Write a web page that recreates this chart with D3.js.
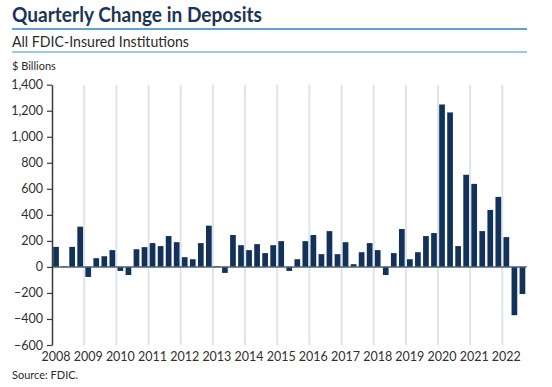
<!DOCTYPE html>
<html>
<head>
<meta charset="utf-8">
<script src="https://cdn.jsdelivr.net/npm/d3@7"></script>
<style>
  body { margin: 0; background: #fff; }
  text { font-family: "Source Sans Pro", Lato, "Open Sans", sans-serif; }
</style>
</head>
<body>
<script>
// Chart data
var years = [2008, 2009, 2010, 2011, 2012, 2013, 2014, 2015, 2016, 2017, 2018, 2019, 2020, 2021, 2022];
var quarterNames = ["Q1", "Q2", "Q3", "Q4"];
// quarterly change in deposits, $ billions, 2008Q1 .. 2022Q3
var depositChange = [
    154, 5, 154, 309,        // 2008
    -77, 67, 82, 129,        // 2009
    -31, -62, 136, 152,      // 2010
    183, 160, 237, 190,      // 2011
    75, 59, 183, 317,        // 2012
    5, -46, 245, 167,        // 2013
    129, 175, 106, 167,      // 2014
    198, -31, 59, 198,       // 2015
    245, 98, 275, 98,        // 2016
    190, 21, 113, 183,       // 2017
    129, -62, 106, 291,      // 2018
    59, 113, 237, 260,       // 2019
    1248, 1187, 160, 708,    // 2020
    638, 275, 438, 538,      // 2021
    229, -371, -208          // 2022
];
var yTicks = [-600, -400, -200, 0, 200, 400, 600, 800, 1000, 1200, 1400];

var quarters = [];
years.forEach(function (yr) {
    quarterNames.forEach(function (q) { quarters.push(yr + q); });
});
quarters = quarters.slice(0, depositChange.length);

var width = 552, height = 387;
var svg = d3.select("body").append("svg")
    .attr("width", width)
    .attr("height", height);

////////////////////////////
// Header
svg.append("text")
    .attr("x", 12).attr("y", 22)
    .attr("font-size", "20px")
    .attr("font-weight", "bold")
    .attr("fill", "#1b3557")
    .attr("textLength", 250)
    .attr("lengthAdjust", "spacingAndGlyphs")
    .text("Quarterly Change in Deposits");

svg.append("line")
    .attr("x1", 12).attr("x2", 527)
    .attr("y1", 29).attr("y2", 29)
    .attr("stroke", "#5fa2d8").attr("stroke-width", 2.2);

svg.append("text")
    .attr("x", 12).attr("y", 47)
    .attr("font-size", "15px")
    .attr("fill", "#2a2a2a")
    .attr("textLength", 177)
    .attr("lengthAdjust", "spacingAndGlyphs")
    .text("All FDIC-Insured Institutions");

svg.append("line")
    .attr("x1", 12).attr("x2", 527)
    .attr("y1", 52).attr("y2", 52)
    .attr("stroke", "#7ab8e0").attr("stroke-width", 1.4);

svg.append("text")
    .attr("x", 12).attr("y", 70)
    .attr("font-size", "11px")
    .attr("fill", "#2a2a2a")
    .text("$ Billions");

////////////////////////////
// Scales
var x = d3.scaleBand()
    .domain(quarters)
    .range([52, 526.5])
    .paddingInner(0.29)
    .paddingOuter(0.15);

var y = d3.scaleLinear()
    .domain([-600, 1400])
    .range([345, 84.7]);

var gap = (x.step() - x.bandwidth()) / 2;

// year gridlines
svg.selectAll("line.grid")
    .data(years.slice(1))
    .enter()
    .append("line")
    .attr("class", "grid")
    .attr("x1", function (d) { return x(d + "Q1") - gap; })
    .attr("x2", function (d) { return x(d + "Q1") - gap; })
    .attr("y1", y(1400))
    .attr("y2", y(-600))
    .attr("stroke", "#dde4eb")
    .attr("stroke-width", 2);

// bars
svg.selectAll("rect.bar")
    .data(depositChange)
    .enter()
    .append("rect")
    .attr("class", "bar")
    .attr("x", function (d, i) { return x(quarters[i]); })
    .attr("width", x.bandwidth())
    .attr("y", function (d) { return y(Math.max(0, d)); })
    .attr("height", function (d) { return Math.abs(y(d) - y(0)); })
    .attr("fill", "#12325a");

// zero line
svg.append("line")
    .attr("x1", 52).attr("x2", 526.7)
    .attr("y1", y(0)).attr("y2", y(0))
    .attr("stroke", "#4d6073").attr("stroke-width", 1.5);

// y axis
var yAxis = svg.append("g")
    .attr("transform", "translate(52,0)")
    .call(d3.axisLeft(y)
        .tickValues(yTicks)
        .tickFormat(d3.format(","))
        .tickSize(5)
        .tickSizeOuter(0)
        .tickPadding(4));
yAxis.select(".domain").attr("stroke", "#3b3b3b").attr("stroke-width", 1.5);
yAxis.selectAll(".tick line").attr("stroke", "#3b3b3b").attr("stroke-width", 1.2);
yAxis.selectAll(".tick text")
    .attr("font-size", "12.5px")
    .attr("fill", "#2f2f2f")
    .style("font-family", "\"Source Sans Pro\", Lato, \"Open Sans\", sans-serif");

// x labels, one per year at the first quarter
svg.selectAll("text.year")
    .data(years)
    .enter()
    .append("text")
    .attr("class", "year")
    .attr("x", function (d) { return x(d + "Q1") + x.bandwidth() / 2; })
    .attr("y", 361)
    .attr("text-anchor", "middle")
    .attr("font-size", "12.5px")
    .attr("fill", "#2f2f2f")
    .text(function (d) { return d; });

svg.append("text")
    .attr("x", 12).attr("y", 379)
    .attr("font-size", "11px")
    .attr("fill", "#2a2a2a")
    .text("Source: FDIC.");
</script>
</body>
</html>
